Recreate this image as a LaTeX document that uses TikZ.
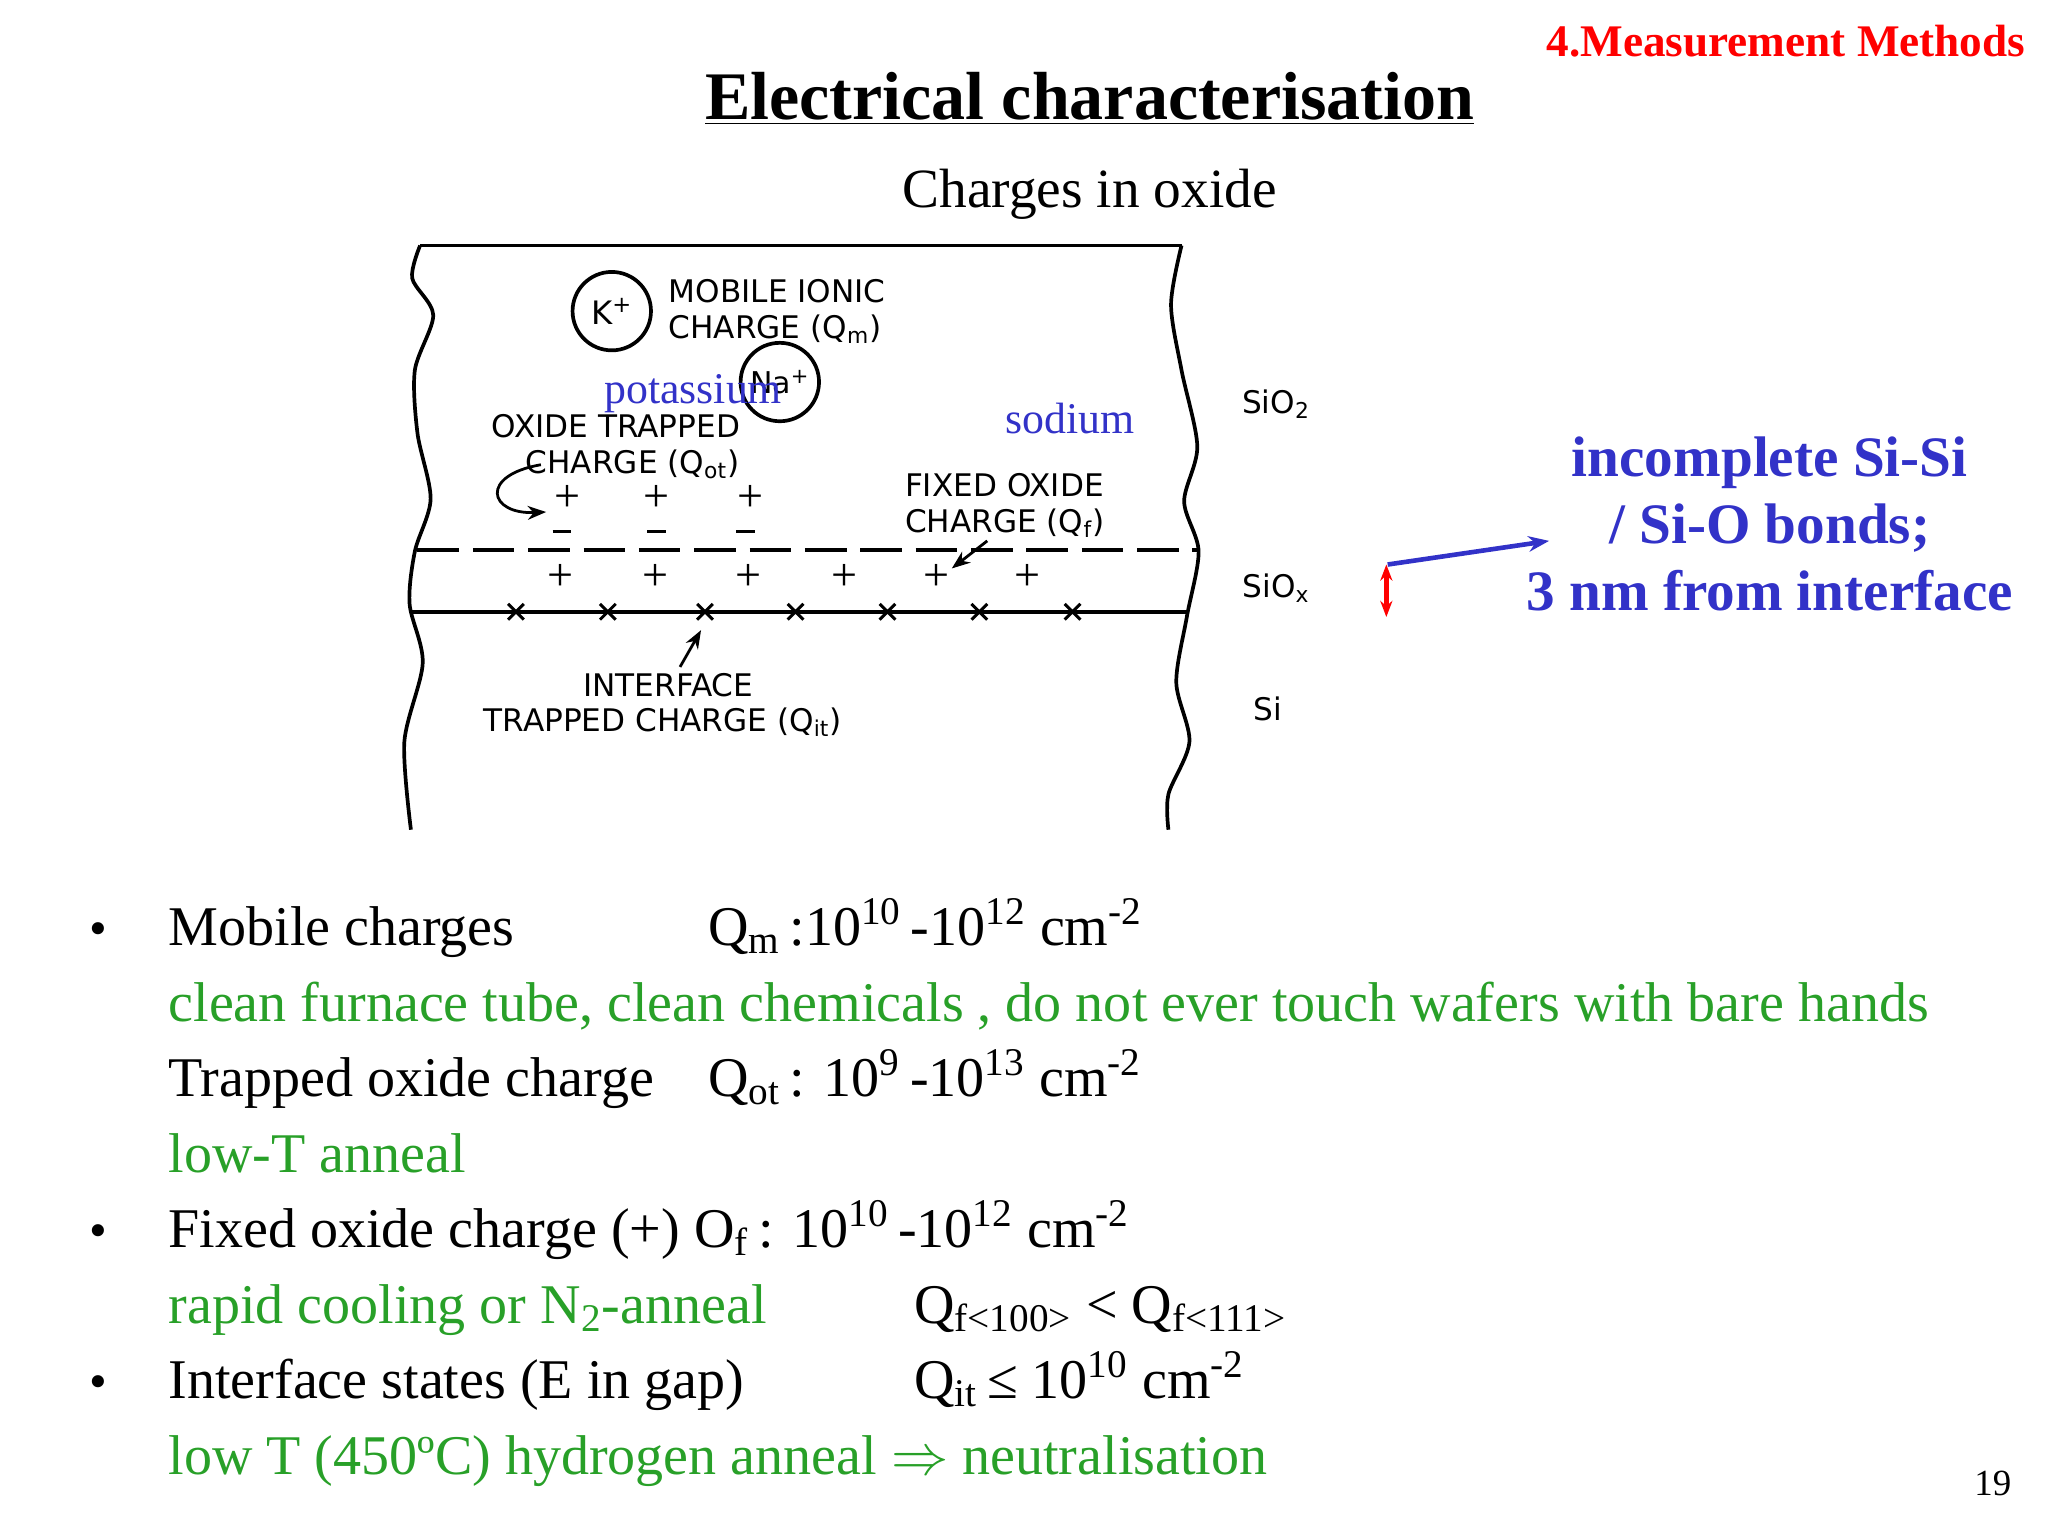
\documentclass[tikz,border=0pt]{standalone}
\usepackage{fontspec}
\setmainfont{Liberation Serif}
\newfontfamily\hand{DejaVu Sans}
\usetikzlibrary{arrows.meta}
\definecolor{gr}{RGB}{40,160,40}
\definecolor{bl}{RGB}{50,50,200}
\newcommand{\sps}[1]{\textsuperscript{#1}}
\newcommand{\sbs}[1]{\textsubscript{#1}}
\tikzset{lab/.style={font=\hand\fontsize{13.5}{15.5}\selectfont,align=left,inner sep=0},
 body/.style={font=\fontsize{24.3}{28}\selectfont,anchor=base west,inner sep=0},
 gbody/.style={body,text=gr}}
\begin{document}
\begin{tikzpicture}[x=0.02cm,y=-0.02cm,line width=1.6pt]
\useasboundingbox (0,0) rectangle (1560,1170);
\node[anchor=north east,text=red,font=\bfseries\fontsize{19.6}{22}\selectfont] (hdr) at (1550,12) {4.Measurement Methods};
\node[font=\bfseries\fontsize{29.5}{32}\selectfont] (title) at (830,75) {\underline{Electrical characterisation}};
\node[font=\fontsize{24}{28}\selectfont] (sub) at (830,148) {Charges in oxide};
% diagram
\draw (320,187) -- (900,187);
\draw plot[smooth] coordinates {(320,187)(314,212)(330,240)(316,282)(318,330)(328,380)(316,420)(312,460)(322,505)(308,565)(313,632)};
\draw plot[smooth] coordinates {(900,187)(892,232)(900,282)(912,340)(902,382)(913,420)(904,470)(896,520)(906,565)(890,605)(890,632)};
\draw[dash pattern=on 18pt off 6pt] (318,419) -- (912,419);
\draw (314,466) -- (906,466);
\foreach \x in {393,463,537,606,676,746,817} {\draw[line width=1.3pt] (\x-6,466-6) -- (\x+6,466+6) (\x-6,466+6) -- (\x+6,466-6);}
\foreach \x in {427,499,570,643,713,783} \node[font=\fontsize{20}{20}\selectfont,inner sep=0] at (\x,440) {+};
\foreach \x in {432,500,572} \node[font=\fontsize{20}{20}\selectfont,inner sep=0] at (\x,380) {+};
\foreach \x in {428,500,568} \draw[line width=1.2pt] (\x-7,405) -- (\x+7,405);
\node[draw,circle,minimum size=34pt,inner sep=0,font=\hand\fontsize{14}{14}\selectfont] (k) at (466,237) {K\sps{+}};
\node[draw,circle,minimum size=34pt,inner sep=0,font=\hand\fontsize{13}{13}\selectfont] (na) at (594,291) {Na\sps{+}};
\node[lab,anchor=west] (mob) at (508,237) {MOBILE IONIC\\CHARGE (Q\sbs{m})};
\node[lab,anchor=west] (ot) at (373,340) {OXIDE TRAPPED\\\hspace*{1.1em}CHARGE (Q\sbs{ot})};
\node[lab,anchor=west] (fx) at (688,385) {FIXED OXIDE\\CHARGE (Q\sbs{f})};
\node[lab,anchor=west] (it) at (367,537) {\hspace*{3.2em}INTERFACE\\TRAPPED CHARGE (Q\sbs{it})};
\node[lab] (sio2) at (972,308) {SiO\sbs{2}};
\node[lab] (siox) at (972,448) {SiO\sbs{x}};
\node[lab] (si) at (966,540) {Si};
\node[text=bl,font=\fontsize{19}{22}\selectfont] (pot) at (528,300) {potassium};
\node[text=bl,font=\fontsize{19}{22}\selectfont] (sod) at (815,319) {sodium};
\draw[-{Stealth[length=8pt]},line width=1.2pt] (412,354) .. controls (365,362) and (372,392) .. (416,390);
\draw[-{Stealth[length=8pt]},line width=1.2pt] (752,412) -- (725,433);
\draw[-{Stealth[length=8pt]},line width=1.2pt] (518,508) -- (534,480);
\node[text=bl,font=\bfseries\fontsize{24.8}{29}\selectfont,align=center] (inc) at (1348,399) {incomplete Si-Si\\/ Si-O bonds;\\3 nm from interface};
\coordinate (bs) at (1057,430);
\draw[-{Stealth[length=9pt]},bl,line width=2pt] (bs) -- (1180,412);
\draw[{Stealth[length=7pt]}-{Stealth[length=7pt]},red,line width=2pt] (1056,430) -- (1056,470);
% text
\foreach \y in {720,950,1065} \node[font=\fontsize{22}{26}\selectfont,anchor=base] at (75,\y) {\textbullet};
\node[body] (t1) at (127,720) {Mobile charges};
\node[body] (q1) at (538,720) {Q\sbs{m}\,:10\sps{10}\,-10\sps{12} cm\sps{-2}};
\node[gbody] (t2) at (127,778) {clean furnace tube, clean chemicals , do not ever touch wafers with bare hands};
\node[body] (t3) at (127,835) {Trapped oxide charge};
\node[body] (q3) at (538,835) {Q\sbs{ot}\,: 10\sps{9}\,-10\sps{13} cm\sps{-2}};
\node[gbody] (t4) at (127,893) {low-T anneal};
\node[body] (t5) at (127,950) {Fixed oxide charge (+) O\sbs{f}\,: 10\sps{10}\,-10\sps{12} cm\sps{-2}};
\node[gbody] (t6) at (127,1008) {rapid cooling or N\sbs{2}-anneal};
\node[body] (q6) at (695,1008) {Q\sbs{f<100>} < Q\sbs{f<111>}};
\node[body] (t7) at (127,1065) {Interface states (E in gap)};
\node[body] (q7) at (695,1065) {Q\sbs{it}\,≤ 10\sps{10} cm\sps{-2}};
\node[gbody] (t8) at (127,1123) {low T (450ºC) hydrogen anneal $\Rightarrow$ neutralisation};
\node[font=\fontsize{16}{18}\selectfont] (pg) at (1518,1130) {19};
\end{tikzpicture}
\end{document}
